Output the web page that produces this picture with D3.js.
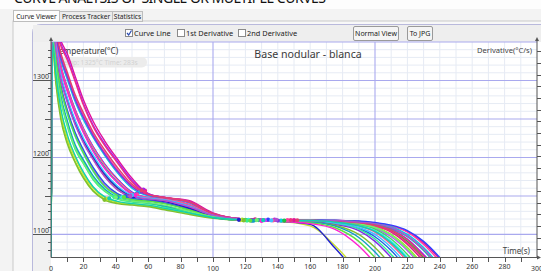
<!DOCTYPE html>
<html>
<head>
<meta charset="utf-8">
<script src="https://cdn.jsdelivr.net/npm/d3@7"></script>
<style>
body { margin: 0; background: #f7f7f7; }
svg { display: block; font-family: "Noto Sans", "Open Sans", sans-serif; }
</style>
</head>
<body>
<script>
// sample times (s) shared by every cooling curve
const times = [0, 1, 3, 6, 10, 15, 20, 26, 33, 41, 50, 60, 70, 85, 100, 120, 140, 160, 175, 190, 200, 210, 220, 230, 240, 250];

const curveColors = [
	"#e0129a", "#ff3fa0", "#00d0e0", "#a020f0", "#3040ff", "#20b0a8", "#20c040",
	"#a0e020", "#d0208c", "#c040ff", "#30e8f0", "#40d860", "#ff5090", "#2060e0",
	"#c8e030", "#2020d0", "#30f090", "#8030e0", "#80c030", "#f03080", "#10a0c0",
	"#60e040", "#ff20d0", "#40c0ff", "#70f070", "#e04070", "#b050d0", "#10d0b0"
];

// temperature (°C) of each curve at the times above
const curveTemps = [
	[1050,1392,1372,1352,1335,1305,1275,1247,1222,1198,1173,1153,1148,1144,1128,1120,1119,1118,1118,1117,1115,1111,1104,1089,1068,1043],
	[1050,1382,1362,1333,1308,1278,1255,1230,1207,1184,1163,1152,1148,1143,1127,1120,1119,1118,1118,1117,1114,1111,1103,1087,1065,1040],
	[1050,1378,1357,1327,1302,1272,1249,1226,1203,1180,1160,1150,1147,1141,1126,1119,1118,1118,1118,1116,1114,1110,1100,1083,1060,1035],
	[1050,1390,1368,1348,1330,1300,1270,1242,1218,1195,1170,1153,1148,1143,1127,1120,1119,1118,1118,1115,1113,1107,1094,1074,1050,1025],
	[1050,1376,1352,1320,1292,1262,1238,1214,1192,1172,1155,1148,1146,1139,1126,1120,1119,1119,1118,1117.5,1115.5,1112,1105,1091,1070,1045],
	[1050,1374,1349,1316,1288,1258,1234,1210,1188,1168,1153,1147,1145,1138,1125,1119,1118,1118,1118,1116,1113,1108,1097,1079,1055,1030],
	[1050,1370,1342,1305,1275,1245,1222,1200,1178,1160,1150,1146,1144,1136,1125,1119,1118,1118,1117.5,1115,1112,1105,1091,1070,1045,1020],
	[1050,1345,1300,1255,1222,1194,1175,1157,1146,1141,1139,1137,1133,1127,1122,1119,1118,1118,1117,1114,1110,1100,1083,1060,1035,1010],
	[1050,1368,1340,1303,1273,1243,1220,1198,1176,1158,1149,1146,1143,1135,1124,1120,1119,1118,1117,1114,1111,1103,1087,1065,1040,1016],
	[1050,1365,1332,1293,1260,1230,1208,1185,1165,1152,1146,1144,1141,1133,1124,1119,1118,1118,1117,1113,1108,1097,1079,1055,1030,1000],
	[1050,1362,1330,1290,1257,1227,1205,1182,1162,1150,1145,1143,1140,1132,1123,1119,1118,1118,1116,1112,1105,1091,1070,1045,1020,1000],
	[1050,1355,1320,1278,1245,1213,1195,1174,1158,1147,1143,1141,1137,1130,1123,1119,1118,1118,1116,1113,1107,1094,1074,1050,1025,1000],
	[1050,1377,1351,1319,1291,1261,1237,1213,1191,1171,1154,1148,1146,1139,1126,1119,1118,1118,1116,1111,1103,1087,1065,1040,1015,1000],
	[1050,1366,1334,1295,1262,1232,1210,1187,1167,1153,1147,1144,1141,1133,1124,1118,1117,1117,1115,1108,1097,1079,1055,1030,1005,1000],
	[1050,1348,1304,1260,1226,1199,1178,1160,1148,1142,1140,1138,1134,1128,1122,1118,1117,1111,1086,1050,1020,1000,1000,1000,1000,1000],
	[1050,1371,1343,1306,1276,1246,1223,1201,1179,1161,1150,1146,1143,1134,1123,1118,1117,1113,1083,1045,1015,1000,1000,1000,1000,1000],
	[1050,1352,1316,1274,1241,1210,1192,1171,1156,1146,1142,1140,1136,1129,1122,1118,1117,1117,1114,1107,1094,1074,1050,1025,1000,1000],
	[1050,1380,1360,1330,1305,1275,1252,1228,1205,1182,1162,1151,1148,1142,1127,1119,1118,1117,1113,1105,1091,1070,1045,1020,1000,1000],
	[1050,1342,1296,1250,1218,1193,1173,1156,1145,1140,1138,1136,1132,1126,1121,1118,1117,1116,1112,1100,1083,1060,1035,1010,1000,1000],
	[1050,1388,1366,1345,1327,1298,1268,1240,1216,1193,1168,1152,1148,1142,1127,1120,1119,1118,1117.5,1115,1111,1104,1089,1068,1043,1018],
	[1050,1357,1323,1281,1248,1216,1197,1176,1159,1148,1143,1141,1137,1130,1122,1118,1117,1116,1111,1096,1077,1053,1028,1003,1000,1000],
	[1050,1363,1330,1291,1258,1228,1206,1183,1163,1151,1145,1143,1140,1132,1123,1118,1117,1115,1109,1091,1070,1045,1020,1000,1000,1000],
	[1050,1373,1348,1314,1286,1256,1232,1208,1186,1167,1152,1147,1144,1137,1125,1118,1117,1114,1107,1085,1063,1038,1013,1000,1000,1000],
	[1050,1372,1345,1308,1278,1248,1225,1203,1181,1163,1151,1147,1145,1137,1125,1119,1118,1118,1115,1109,1100,1083,1060,1035,1010,1000],
	[1050,1354,1318,1276,1243,1212,1193,1173,1157,1147,1143,1141,1138,1130,1123,1119,1118,1118,1117,1114,1109,1099,1081,1058,1033,1005],
	[1050,1384,1364,1336,1311,1281,1258,1233,1210,1187,1165,1152,1148,1143,1127,1120,1119,1118,1117.5,1115,1112,1106,1093,1072,1048,1022],
	[1050,1369,1340,1302,1272,1242,1219,1197,1175,1158,1149,1146,1144,1136,1125,1120,1119,1118,1118,1116,1114,1109,1098,1081,1058,1033],
	[1050,1350,1308,1264,1230,1202,1181,1162,1149,1143,1140,1138,1134,1128,1122,1119,1118,1118,1116,1111,1104,1089,1068,1043,1018,1000]
];

// times (s) of the two characteristic points marked on each curve
const markFirst = [58, 56, 55, 57, 53, 52, 50, 34, 49, 45, 44, 40, 53, 46, 35, 51, 39, 56, 33, 58, 41, 45, 52, 50, 40, 56, 49, 36];
const markSecond = [150, 146, 142, 138, 134, 128, 144, 118, 126, 132, 122, 120, 137, 124, 117, 116, 121, 140, 119, 148, 125, 123, 130, 136, 127, 152, 139, 131];

const xTickLabels = [0, 20, 40, 60, 80, 100, 120, 140, 160, 180, 200, 220, 240, 260, 280, 300];
const yTickLabels = [1100, 1200, 1300];
const chartTitle = "Base nodular - blanca";

const W = 541, H = 271;
const pLeft = 51, pRight = 537, pTop = 42, pBottom = 257.5;

const x = d3.scaleLinear().domain([0, 300]).range([pLeft, pRight]);
const y = d3.scaleLinear().domain([1070, 1350]).range([pBottom, pTop]);
const yDeriv = d3.scaleLinear().domain([-0.7, 17.8]).range([pBottom, pTop]);

const svg = d3.select("body").append("svg")
	.attr("width", W)
	.attr("height", H);

// window background
svg.append("rect").attr("width", W).attr("height", H).attr("fill", "#f3f3f3");
svg.append("rect").attr("width", W).attr("height", 9).attr("fill", "#fdfdfd");

// page heading, cut by the top of the screenshot
svg.append("text")
	.attr("x", 14).attr("y", 3.2)
	.attr("font-size", 14)
	.attr("textLength", 312)
	.attr("fill", "#111")
	.text("CURVE ANALYSIS OF SINGLE OR MULTIPLE CURVES");

// tab strip
const tabs = [
	{name: "Curve Viewer", x0: 13, x1: 59, on: true},
	{name: "Process Tracker", x0: 59, x1: 112, on: false},
	{name: "Statistics", x0: 112, x1: 142, on: false}
];
svg.append("rect").attr("x", 13).attr("y", 21).attr("width", 540).attr("height", 260)
	.attr("fill", "#f8f8f8").attr("stroke", "#c9c9c9");
svg.selectAll("g.tab").data(tabs).enter().append("g").classed("tab", true)
	.each(function(d) {
		const g = d3.select(this);
		g.append("rect").attr("x", d.x0 + 0.5).attr("y", d.on ? 10.5 : 11.5)
			.attr("width", d.x1 - d.x0).attr("height", d.on ? 11 : 10)
			.attr("fill", d.on ? "#fdfdfd" : "#ececec").attr("stroke", "#bdbdbd");
		g.append("text").attr("x", (d.x0 + d.x1) / 2 + 0.5).attr("y", 19)
			.attr("text-anchor", "middle").attr("font-size", 6.6).attr("fill", "#222")
			.text(d.name);
	});

// inner panel with toolbar
svg.append("path")
	.attr("d", "M32.5,280 L32.5,33 Q32.5,24.5 41,24.5 L545,24.5")
	.attr("fill", "#efefef").attr("stroke", "#b9b9dc");
svg.append("rect").attr("x", 33).attr("y", 25).attr("width", 510).attr("height", 17)
	.attr("fill", "#eeeeee");

const checks = [
	{label: "Curve Line", bx: 125, on: true},
	{label: "1st Derivative", bx: 177, on: false},
	{label: "2nd Derivative", bx: 238, on: false}
];
checks.forEach(c => {
	svg.append("rect").attr("x", c.bx + 0.5).attr("y", 29.5).attr("width", 7).attr("height", 7)
		.attr("fill", "#fff").attr("stroke", "#8a8a8a");
	if (c.on) {
		svg.append("path")
			.attr("d", `M${c.bx + 2},${33} L${c.bx + 3.7},${35} L${c.bx + 6.5},${30.5}`)
			.attr("fill", "none").attr("stroke", "#2a4bb0").attr("stroke-width", 1.2);
	}
	svg.append("text").attr("x", c.bx + 9).attr("y", 36).attr("font-size", 7.4)
		.attr("fill", "#222").text(c.label);
});

const buttons = [
	{label: "Normal View", x0: 353, w: 45},
	{label: "To JPG", x0: 407, w: 25}
];
buttons.forEach(b => {
	svg.append("rect").attr("x", b.x0 + 0.5).attr("y", 26.5).attr("width", b.w).attr("height", 14)
		.attr("rx", 1.5).attr("fill", "#f4f4f4").attr("stroke", "#9a9a9a");
	svg.append("text").attr("x", b.x0 + b.w / 2 + 0.5).attr("y", 36.2)
		.attr("text-anchor", "middle").attr("font-size", 7).attr("fill", "#222").text(b.label);
});

// plot background and margin strip
svg.append("rect").attr("x", 33).attr("y", pTop).attr("width", pLeft - 33).attr("height", H - pTop)
	.attr("fill", "#f1f1f1");
svg.append("rect").attr("x", pLeft).attr("y", pTop).attr("width", W - pLeft).attr("height", H - pTop)
	.attr("fill", "#ffffff");

// grid: light every 10, strong every 100 s / 50 °C
const grid = svg.append("g");
grid.selectAll("line.vminor").data(d3.range(10, 300, 10).filter(d => d % 100 != 0))
	.enter().append("line")
	.attr("x1", d => x(d)).attr("x2", d => x(d))
	.attr("y1", pTop).attr("y2", pBottom)
	.attr("stroke", "#e6ebf4").attr("stroke-width", 1);
grid.selectAll("line.hminor").data(d3.range(1080, 1350, 10).filter(d => d % 50 != 0))
	.enter().append("line")
	.attr("x1", pLeft).attr("x2", pRight)
	.attr("y1", d => y(d)).attr("y2", d => y(d))
	.attr("stroke", "#e6ebf4").attr("stroke-width", 1);
grid.selectAll("line.vmajor").data([100, 200])
	.enter().append("line")
	.attr("x1", d => x(d)).attr("x2", d => x(d))
	.attr("y1", pTop).attr("y2", pBottom)
	.attr("stroke", "#a9a9ee").attr("stroke-width", 1.1);
grid.selectAll("line.hmajor").data(d3.range(1100, 1351, 50))
	.enter().append("line")
	.attr("x1", pLeft).attr("x2", pRight)
	.attr("y1", d => y(d)).attr("y2", d => y(d))
	.attr("stroke", "#a9a9ee").attr("stroke-width", 1.1);

// text that sits under the curves
svg.append("text").attr("x", 55).attr("y", 53.5).attr("font-size", 8.2).attr("fill", "#333")
	.text("Temperature(°C)");
svg.append("rect").attr("x", 54).attr("y", 57).attr("width", 93).attr("height", 10.5)
	.attr("rx", 5).attr("fill", "#ececec");
svg.append("text").attr("x", 60).attr("y", 64.8).attr("font-size", 6.6).attr("fill", "#d2d2d2")
	.text("Temp: 1325°C   Time: 283s");
svg.append("text").attr("x", 308).attr("y", 57.5).attr("text-anchor", "middle")
	.attr("font-size", 10.6).attr("fill", "#3a3a3a").text(chartTitle);
svg.append("text").attr("x", 532).attr("y", 52.5).attr("text-anchor", "end")
	.attr("font-size", 7.6).attr("fill", "#444").text("Derivative(°C/s)");
svg.append("text").attr("x", 530).attr("y", 253.5).attr("text-anchor", "end")
	.attr("font-size", 8).attr("fill", "#444").text("Time(s)");

// curves
svg.append("clipPath").attr("id", "plotclip")
	.append("rect").attr("x", pLeft).attr("y", pTop).attr("width", pRight - pLeft).attr("height", pBottom - pTop);

const line = d3.line()
	.x(d => x(d[0]))
	.y(d => y(d[1]))
	.curve(d3.curveMonotoneX);

const curves = curveTemps.map((temps, i) => ({
	color: curveColors[i],
	points: times.map((t, j) => [t, temps[j]]),
	marks: [markFirst[i], markSecond[i]].map(t => [t, d3.scaleLinear().domain(times).range(temps)(t)])
}));

const plot = svg.append("g").attr("clip-path", "url(#plotclip)");
plot.selectAll("path.curve").data(curves).enter().append("path")
	.classed("curve", true)
	.attr("d", d => line(d.points))
	.attr("fill", "none")
	.attr("stroke", d => d.color)
	.attr("stroke-width", 1.4);

plot.selectAll("g.marks").data(curves).enter().append("g")
	.selectAll("circle").data(d => d.marks.map(m => ({m: m, color: d.color})))
	.enter().append("circle")
	.attr("cx", d => x(d.m[0]))
	.attr("cy", d => y(d.m[1]))
	.attr("r", 2.1)
	.attr("fill", d => d.color);

// axes
const axisColor = "#555";
const axes = svg.append("g").attr("stroke", axisColor).attr("fill", "none");
axes.append("line").attr("x1", pLeft).attr("x2", pLeft).attr("y1", pTop - 3).attr("y2", pBottom);
axes.append("line").attr("x1", pLeft).attr("x2", pRight + 2).attr("y1", pBottom).attr("y2", pBottom);
axes.append("line").attr("x1", pRight).attr("x2", pRight).attr("y1", pTop - 3).attr("y2", pBottom);

// left ticks
axes.selectAll("line.yt").data(d3.range(1080, 1350, 10)).enter().append("line")
	.attr("x1", d => d % 100 == 0 ? 33 : (d % 50 == 0 ? 45 : 48))
	.attr("x2", pLeft)
	.attr("y1", d => Math.round(y(d)) + 0.5).attr("y2", d => Math.round(y(d)) + 0.5);
// bottom ticks
axes.selectAll("line.xt").data(d3.range(10, 300, 10)).enter().append("line")
	.attr("x1", d => Math.round(x(d)) + 0.5).attr("x2", d => Math.round(x(d)) + 0.5)
	.attr("y1", pBottom).attr("y2", pBottom + 4.5);
// right ticks (derivative axis)
axes.selectAll("line.dt").data(d3.range(0, 18, 1)).enter().append("line")
	.attr("x1", pRight).attr("x2", pRight + 5)
	.attr("y1", d => Math.round(yDeriv(d)) + 0.5).attr("y2", d => Math.round(yDeriv(d)) + 0.5);

// arrow heads
const arrows = svg.append("g").attr("fill", axisColor);
arrows.append("path").attr("d", `M${pLeft},${pTop - 5} l-2,4 l4,0 z`);
arrows.append("path").attr("d", `M${pRight},${pTop - 5} l-2,4 l4,0 z`);
arrows.append("path").attr("d", `M${pRight + 4},${pBottom} l-4,-2 l0,4 z`);

// tick labels
svg.selectAll("text.ylab").data(yTickLabels).enter().append("text")
	.attr("x", 33).attr("y", d => y(d) - 1.8)
	.attr("font-size", 7).attr("fill", "#333")
	.text(d => d);
svg.selectAll("text.xlab").data(xTickLabels).enter().append("text")
	.attr("x", d => x(d)).attr("y", d => d % 100 == 0 ? 270.5 : 268.5)
	.attr("text-anchor", "middle")
	.attr("font-size", 7).attr("fill", "#333")
	.text(d => d);
</script>
</body>
</html>
